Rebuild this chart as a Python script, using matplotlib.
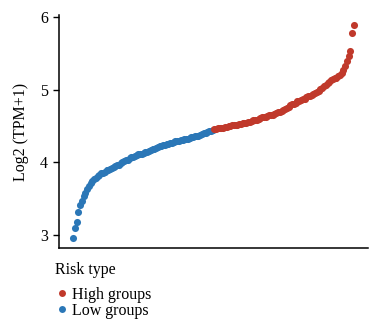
import matplotlib
matplotlib.use("Agg")
import matplotlib.pyplot as plt
from matplotlib.lines import Line2D
import numpy as np

plt.rcParams["font.family"] = ["Liberation Serif", "DejaVu Serif"]

# sorted expression values, Log2(TPM+1)
low_vals = [
	2.96, 3.10, 3.18, 3.32, 3.42, 3.47, 3.54, 3.58, 3.63, 3.67,
	3.71, 3.74, 3.77, 3.79, 3.81, 3.83, 3.85, 3.86, 3.87, 3.89,
	3.90, 3.91, 3.93, 3.94, 3.95, 3.96, 3.97, 3.99, 4.01, 4.02,
	4.03, 4.04, 4.06, 4.07, 4.08, 4.09, 4.10, 4.11, 4.11, 4.12,
	4.13, 4.14, 4.15, 4.16, 4.17, 4.18, 4.19, 4.20, 4.21, 4.22,
	4.23, 4.24, 4.24, 4.25, 4.26, 4.27, 4.27, 4.28, 4.29, 4.29,
	4.30, 4.31, 4.31, 4.32, 4.33, 4.33, 4.34, 4.35, 4.35, 4.36,
	4.37, 4.37, 4.38, 4.39, 4.40, 4.41, 4.42, 4.43, 4.44, 4.45,
]
high_vals = [
	4.46, 4.46, 4.47, 4.47, 4.48, 4.48, 4.49, 4.49, 4.50, 4.50,
	4.51, 4.51, 4.52, 4.52, 4.53, 4.53, 4.54, 4.54, 4.55, 4.56,
	4.56, 4.57, 4.58, 4.59, 4.59, 4.60, 4.61, 4.62, 4.63, 4.63,
	4.64, 4.65, 4.66, 4.66, 4.67, 4.68, 4.69, 4.70, 4.71, 4.72,
	4.74, 4.75, 4.77, 4.79, 4.80, 4.81, 4.82, 4.84, 4.85, 4.86,
	4.87, 4.88, 4.90, 4.91, 4.92, 4.93, 4.95, 4.96, 4.97, 4.99,
	5.01, 5.03, 5.05, 5.07, 5.09, 5.11, 5.13, 5.15, 5.16, 5.17,
	5.19, 5.21, 5.23, 5.27, 5.33, 5.40, 5.47, 5.54, 5.78, 5.89,
]
groups = ["High groups", "Low groups"]
colors = {"High groups": "#C0392B", "Low groups": "#2B77B7"}
y_ticks = [3, 4, 5, 6]

low_x = np.arange(len(low_vals))
high_x = np.arange(len(low_vals), len(low_vals) + len(high_vals))

fig = plt.figure(figsize=(3.69, 3.22), dpi=100)
ax = fig.add_axes([59 / 369, 74 / 322, 309 / 369, 233 / 322])

ax.scatter(low_x, low_vals, s=26, color=colors["Low groups"], linewidths=0, zorder=3)
ax.scatter(high_x, high_vals, s=26, color=colors["High groups"], linewidths=0, zorder=3)

ax.set_xlim(-7.9, 166.9)
ax.set_ylim(2.821, 6.032)
ax.set_yticks(y_ticks)
ax.set_xticks([])
ax.tick_params(axis="y", length=4, width=1, pad=4, labelsize=11.5)
ax.set_ylabel("Log2 (TPM+1)", fontsize=11.5, labelpad=8)

for side in ["top", "right"]:
	ax.spines[side].set_visible(False)
for side in ["left", "bottom"]:
	ax.spines[side].set_linewidth(1.1)

# legend below the plot
fig.text(55 / 369, 1 - 270 / 322, "Risk type", fontsize=11.5, va="center", ha="left")
handles = [Line2D([], [], marker="o", linestyle="none", markersize=5,
	markerfacecolor=colors[g], markeredgewidth=0) for g in groups]
fig.legend(handles, groups, loc="upper left",
	bbox_to_anchor=(50 / 369, 1 - 279 / 322), frameon=False, fontsize=11.5,
	handlelength=0.5, handletextpad=0.35, labelspacing=0.0, borderpad=0)

fig.savefig("out.png", dpi=100)
